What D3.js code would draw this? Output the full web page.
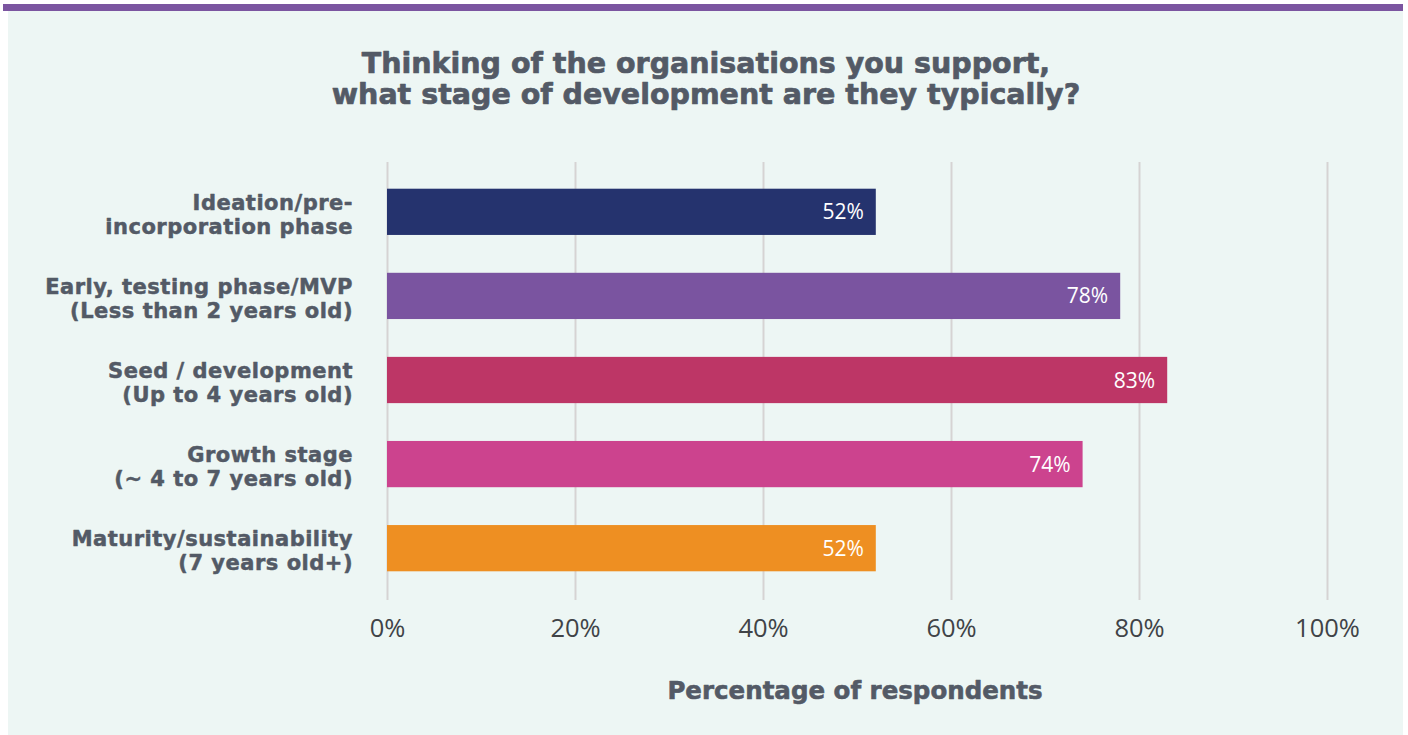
<!DOCTYPE html>
<html>
<head>
<meta charset="utf-8">
<script src="https://cdn.jsdelivr.net/npm/d3@7"></script>
<style>
  html, body { margin: 0; padding: 0; background: #ffffff; }
  svg { display: block; }
</style>
</head>
<body>
<svg id="chart" width="1408" height="735"></svg>
<script>
// Development stages of supported organisations (two-line category labels)
const stageLines = [
  ["Ideation/pre-", "incorporation phase"],
  ["Early, testing phase/MVP", "(Less than 2 years old)"],
  ["Seed / development", "(Up to 4 years old)"],
  ["Growth stage", "(~ 4 to 7 years old)"],
  ["Maturity/sustainability", "(7 years old+)"]
];
// Share of respondents, percent
const shareValues = [52, 78, 83, 74, 52];
const barColors = ["#25336e", "#7a54a0", "#bd3666", "#cc438e", "#ee8f22"];
const tickValues = [0, 20, 40, 60, 80, 100];
const titleLines = [
  "Thinking of the organisations you support,",
  "what stage of development are they typically?"
];
const axisTitle = "Percentage of respondents";

const svg = d3.select("#chart");
const W = 1408, H = 735;
const textColor = "#535a66";
const headFont = "'DejaVu Sans', 'Noto Sans', sans-serif";
const bodyFont = "'Open Sans', 'Noto Sans', sans-serif";

// Heavy headings: bold face plus a thin same-colour outline
function heavy(sel, w) {
  return sel.attr("font-family", headFont)
    .attr("font-weight", 700)
    .attr("fill", textColor)
    .attr("stroke", textColor)
    .attr("stroke-width", w)
    .attr("stroke-linejoin", "round");
}

// Panel and top accent strip
svg.append("rect").attr("x", 8).attr("y", 10).attr("width", 1395).attr("height", H - 10)
  .attr("fill", "#edf6f4");
svg.append("rect").attr("x", 3).attr("y", 4).attr("width", 1400).attr("height", 7)
  .attr("fill", "#7b55a0");

// Title, one text element per line
svg.append("g").selectAll("text").data(titleLines).join("text")
  .attr("x", 706).attr("y", (d, i) => 73 + i * 31)
  .attr("text-anchor", "middle")
  .attr("font-size", 28.5)
  .call(heavy, 0.7)
  .text(d => d);

// Scales
const x = d3.scaleLinear().domain([0, 100]).range([387, 1327]);
const y = d3.scaleBand().domain(d3.range(stageLines.length))
  .range([166, 594]).paddingInner(0.45).paddingOuter(0.27);

// Gridlines + tick labels via a bottom axis
const axis = d3.axisBottom(x)
  .tickValues(tickValues)
  .tickFormat(d => d + "%")
  .tickSize(-(600 - 162))
  .tickPadding(19);
const axG = svg.append("g").attr("transform", "translate(0,600)").call(axis);
axG.select(".domain").remove();
axG.selectAll(".tick line").attr("stroke", "#d6d3d3").attr("stroke-width", 2);
axG.selectAll(".tick text")
  .attr("font-family", bodyFont)
  .attr("font-size", 25.5)
  .attr("fill", "#404347");

// Bars
svg.append("g").selectAll("rect").data(shareValues).join("rect")
  .attr("x", x(0))
  .attr("y", (d, i) => y(i))
  .attr("width", d => x(d) - x(0))
  .attr("height", y.bandwidth())
  .attr("fill", (d, i) => barColors[i]);

// Value labels inside bar ends
svg.append("g").selectAll("text").data(shareValues).join("text")
  .attr("x", d => x(d) - 12)
  .attr("y", (d, i) => y(i) + y.bandwidth() / 2)
  .attr("dy", "0.36em")
  .attr("text-anchor", "end")
  .attr("font-family", bodyFont)
  .attr("font-size", 21)
  .attr("fill", "#ffffff")
  .text(d => d + "%");

// Category labels
const catG = svg.append("g");
stageLines.forEach((lines, i) => {
  const cy = y(i) + y.bandwidth() / 2;
  catG.append("text")
    .attr("text-anchor", "end")
    .attr("font-size", 21)
    .attr("letter-spacing", 0.5)
    .call(heavy, 0.5)
    .selectAll("tspan").data(lines).join("tspan")
    .attr("x", 353)
    .attr("y", (d, k) => cy - 2 + k * 24)
    .text(d => d);
});

// Axis title
svg.append("text")
  .attr("x", 855).attr("y", 699)
  .attr("text-anchor", "middle")
  .attr("font-size", 24.5)
  .call(heavy, 0.6)
  .text(axisTitle);
</script>
</body>
</html>
